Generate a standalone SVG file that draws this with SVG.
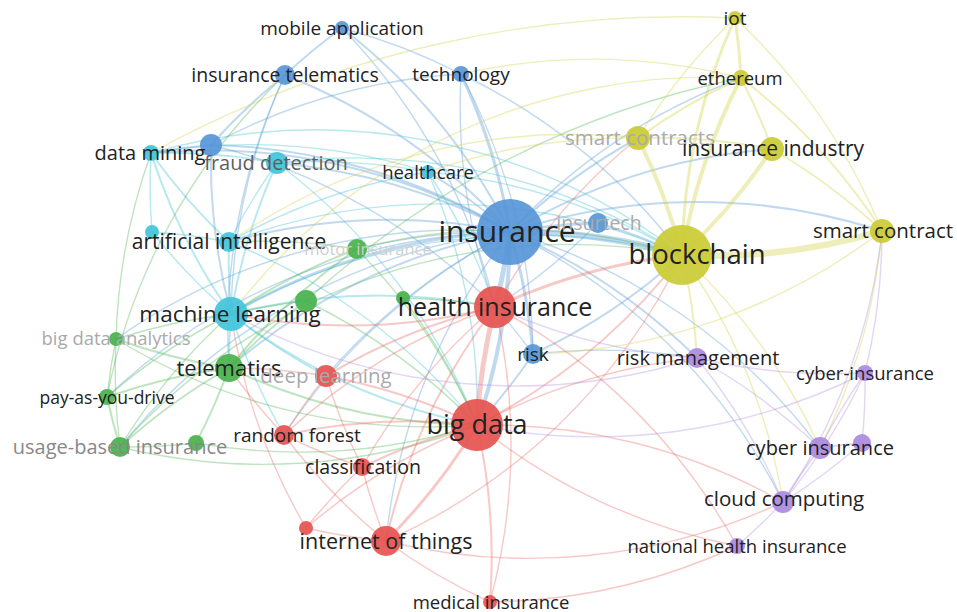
<svg xmlns="http://www.w3.org/2000/svg" width="957" height="612" viewBox="0 0 957 612">
<style>
  .e{fill:none;stroke-linecap:round;stroke-opacity:.38}
  .eb{stroke:#5b9bd5}.ec{stroke:#45c3d6}.eg{stroke:#55b85a}.er{stroke:#e8706a}.ey{stroke:#d2d24a}.ep{stroke:#b394e0}
  .w1{stroke-width:1.4}.w2{stroke-width:2}.w3{stroke-width:3}.w4{stroke-width:4}.w5{stroke-width:5}.w6{stroke-width:6.5}
  .nb{fill:#5796d8}.nc{fill:#42c4da}.ng{fill:#48b24c}.nr{fill:#e6524f}.ny{fill:#cbcb34}.np{fill:#ab8ae0}
  circle{fill-opacity:.92}
  text{font-family:"Open Sans","Noto Sans","DejaVu Sans",sans-serif;fill:#222;text-anchor:middle}
  .f1{fill:#aaa}.f2{fill:#888}.f3{fill:#5e5e5e}.f4{fill:#cfcfcf}
</style>
<rect width="957" height="612" fill="#fff"/>
<g id="connectors">
  <!-- blue cluster links -->
  <path class="e eb w6" d="M510 232A600 600 0 0 1 682 255"/>
  <path class="e eb w5" d="M510 232A600 600 0 0 1 495 307"/>
  <path class="e eb w4" d="M510 232A600 600 0 0 1 477 425"/>
  <path class="e eb w3" d="M461 74A600 600 0 0 1 510 232"/>
  <path class="e eb w2" d="M342 28A600 600 0 0 1 510 232"/>
  <path class="e eb w2" d="M285 75A600 600 0 0 1 510 232"/>
  <path class="e eb w2" d="M151 153A600 600 0 0 1 510 232"/>
  <path class="e eb w2" d="M211 145A600 600 0 0 1 510 232"/>
  <path class="e eb w2" d="M277 163A600 600 0 0 1 510 232"/>
  <path class="e eb w3" d="M231 314A600 600 0 0 1 510 232"/>
  <path class="e eb w2" d="M229 242A600 600 0 0 1 510 232"/>
  <path class="e eb w2" d="M229 368A600 600 0 0 1 510 232"/>
  <path class="e eb w3" d="M510 232A600 600 0 0 1 533 354"/>
  <path class="e eb w3" d="M510 232A600 600 0 0 1 598 223"/>
  <path class="e eb w2" d="M510 232A600 600 0 0 1 638 138"/>
  <path class="e eb w2" d="M510 232A600 600 0 0 1 772 149"/>
  <path class="e eb w2" d="M510 232A600 600 0 0 1 882 231"/>
  <path class="e eb w1" d="M510 232A600 600 0 0 1 741 78"/>
  <path class="e eb w2" d="M510 232A600 600 0 0 1 697 358"/>
  <path class="e eb w1" d="M386 541A600 600 0 0 1 510 232"/>
  <path class="e eb w1" d="M510 232A600 600 0 0 1 820 448"/>
  <path class="e eb w2" d="M428 172A600 600 0 0 1 510 232"/>
  <path class="e eb w1" d="M120 447A600 600 0 0 1 510 232"/>
  <path class="e eb w1" d="M107 397A600 600 0 0 1 510 232"/>
  <path class="e eb w1" d="M116 339A600 600 0 0 1 510 232"/>
  <path class="e eb w1" d="M284 435A600 600 0 0 1 510 232"/>
  <path class="e eb w1" d="M326 376A600 600 0 0 1 510 232"/>
  <path class="e eb w1" d="M357 249A600 600 0 0 1 510 232"/>
  <path class="e eb w1" d="M510 232A600 600 0 0 1 783 502"/>
  <path class="e eb w2" d="M285 75A600 600 0 0 1 342 28"/>
  <path class="e eb w1" d="M342 28A600 600 0 0 1 461 74"/>
  <path class="e eb w1" d="M342 28A600 600 0 0 1 495 307"/>
  <path class="e eb w2" d="M211 145A600 600 0 0 1 285 75"/>
  <path class="e eb w1" d="M285 75A600 600 0 0 0 229 368"/>
  <path class="e eb w1" d="M285 75A600 600 0 0 0 231 314"/>
  <path class="e eb w1" d="M461 74A600 600 0 0 1 533 354"/>
  <path class="e eb w1" d="M461 74A600 600 0 0 0 495 307"/>
  <path class="e eb w1" d="M461 74A600 600 0 0 1 682 255"/>
  <path class="e eb w1" d="M211 145A600 600 0 0 1 461 74"/>
  <path class="e eb w2" d="M151 153A600 600 0 0 1 211 145"/>
  <path class="e eb w2" d="M211 145A600 600 0 0 0 231 314"/>
  <path class="e eb w1" d="M211 145A600 600 0 0 1 495 307"/>
  <path class="e eb w2" d="M598 223A600 600 0 0 1 682 255"/>
  <path class="e eb w1" d="M598 223A600 600 0 0 1 495 307"/>
  <path class="e eb w2" d="M533 354A600 600 0 0 0 682 255"/>
  <path class="e eb w2" d="M533 354A600 600 0 0 1 477 425"/>
  <path class="e eb w1" d="M495 307A600 600 0 0 1 533 354"/>
  <path class="e eb w1" d="M533 354A600 600 0 0 1 697 358"/>
  <!-- cyan cluster links -->
  <path class="e ec w2" d="M151 153A600 600 0 0 1 277 163"/>
  <path class="e ec w2" d="M151 153A600 600 0 0 0 231 314"/>
  <path class="e ec w2" d="M151 153A600 600 0 0 0 229 242"/>
  <path class="e ec w1" d="M151 153A600 600 0 0 1 428 172"/>
  <path class="e ec w1" d="M151 153A600 600 0 0 0 152 232"/>
  <path class="e ec w1" d="M151 153A600 600 0 0 1 682 255"/>
  <path class="e ec w2" d="M277 163A600 600 0 0 0 231 314"/>
  <path class="e ec w1" d="M277 163A600 600 0 0 1 428 172"/>
  <path class="e ec w1" d="M277 163A600 600 0 0 1 477 425"/>
  <path class="e ec w1" d="M277 163A600 600 0 0 0 229 242"/>
  <path class="e ec w1" d="M277 163A600 600 0 0 1 682 255"/>
  <path class="e ec w2" d="M229 242A600 600 0 0 0 231 314"/>
  <path class="e ec w1" d="M229 242A600 600 0 0 1 428 172"/>
  <path class="e ec w1" d="M229 242A600 600 0 0 1 682 255"/>
  <path class="e ec w1" d="M229 242A600 600 0 0 1 477 425"/>
  <path class="e ec w2" d="M231 314A600 600 0 0 1 495 307"/>
  <path class="e ec w2" d="M231 314A600 600 0 0 0 477 425"/>
  <path class="e ec w2" d="M231 314A600 600 0 0 0 229 368"/>
  <path class="e ec w1" d="M231 314A600 600 0 0 0 326 376"/>
  <path class="e ec w1" d="M231 314A600 600 0 0 0 284 435"/>
  <path class="e ec w1" d="M231 314A600 600 0 0 1 682 255"/>
  <path class="e ec w1" d="M152 232A600 600 0 0 0 231 314"/>
  <path class="e ec w1" d="M152 232A600 600 0 0 1 229 242"/>
  <path class="e ec w1" d="M428 172A600 600 0 0 1 682 255"/>
  <path class="e ec w1" d="M428 172A600 600 0 0 1 477 425"/>
  <path class="e ec w1" d="M428 172A600 600 0 0 1 495 307"/>
  <!-- green cluster links -->
  <path class="e eg w2" d="M107 397A600 600 0 0 1 229 368"/>
  <path class="e eg w2" d="M120 447A600 600 0 0 1 229 368"/>
  <path class="e eg w2" d="M116 339A600 600 0 0 0 229 368"/>
  <path class="e eg w2" d="M229 368A600 600 0 0 1 196 443"/>
  <path class="e eg w2" d="M107 397A600 600 0 0 0 120 447"/>
  <path class="e eg w1" d="M116 339A600 600 0 0 0 120 447"/>
  <path class="e eg w1" d="M116 339A600 600 0 0 0 107 397"/>
  <path class="e eg w1" d="M120 447A600 600 0 0 0 196 443"/>
  <path class="e eg w2" d="M357 249A600 600 0 0 0 229 368"/>
  <path class="e eg w2" d="M357 249A600 600 0 0 0 231 314"/>
  <path class="e eg w2" d="M306 301A600 600 0 0 0 229 368"/>
  <path class="e eg w1" d="M306 301A600 600 0 0 0 231 314"/>
  <path class="e eg w1" d="M306 301A600 600 0 0 1 477 425"/>
  <path class="e eg w1" d="M357 249A600 600 0 0 1 477 425"/>
  <path class="e eg w1" d="M403 298A600 600 0 0 1 477 425"/>
  <path class="e eg w1" d="M403 298A600 600 0 0 1 495 307"/>
  <path class="e eg w1" d="M116 339A600 600 0 0 1 231 314"/>
  <path class="e eg w1" d="M357 249A600 600 0 0 1 682 255"/>
  <path class="e eg w1" d="M116 339A600 600 0 0 0 477 425"/>
  <path class="e eg w2" d="M229 368A600 600 0 0 0 477 425"/>
  <path class="e eg w1" d="M120 447A600 600 0 0 0 477 425"/>
  <path class="e eg w1" d="M107 397A600 600 0 0 1 285 75"/>
  <path class="e eg w1" d="M116 339A600 600 0 0 1 151 153"/>
  <path class="e eg w1" d="M196 443A600 600 0 0 0 477 425"/>
  <path class="e eg w1" d="M107 397A600 600 0 0 1 231 314"/>
  <path class="e eg w1" d="M120 447A600 600 0 0 1 231 314"/>
  <path class="e eg w1" d="M229 242A600 600 0 0 1 357 249"/>
  <path class="e eg w1" d="M120 447A600 600 0 0 1 682 255"/>
  <path class="e eg w1" d="M306 301A900 900 0 0 1 741 78"/>
  <!-- red cluster links -->
  <path class="e er w5" d="M495 307A600 600 0 0 0 477 425"/>
  <path class="e er w3" d="M477 425A600 600 0 0 1 386 541"/>
  <path class="e er w2" d="M284 435A600 600 0 0 1 477 425"/>
  <path class="e er w2" d="M362 467A600 600 0 0 1 477 425"/>
  <path class="e er w2" d="M326 376A600 600 0 0 1 477 425"/>
  <path class="e er w2" d="M477 425A600 600 0 0 1 490 602"/>
  <path class="e er w1" d="M306 528A600 600 0 0 1 477 425"/>
  <path class="e er w2" d="M477 425A600 600 0 0 0 682 255"/>
  <path class="e er w1" d="M477 425A600 600 0 0 0 737 546"/>
  <path class="e er w1" d="M477 425A600 600 0 0 1 783 502"/>
  <path class="e er w1" d="M477 425A600 600 0 0 1 697 358"/>
  <path class="e er w2" d="M326 376A600 600 0 0 1 495 307"/>
  <path class="e er w1" d="M284 435A600 600 0 0 1 495 307"/>
  <path class="e er w2" d="M386 541A600 600 0 0 1 495 307"/>
  <path class="e er w3" d="M495 307A600 600 0 0 1 682 255"/>
  <path class="e er w1" d="M495 307A600 600 0 0 1 490 602"/>
  <path class="e er w1" d="M495 307A600 600 0 0 1 737 546"/>
  <path class="e er w1" d="M326 376A600 600 0 0 0 284 435"/>
  <path class="e er w1" d="M326 376A600 600 0 0 0 362 467"/>
  <path class="e er w1" d="M284 435A600 600 0 0 0 362 467"/>
  <path class="e er w1" d="M362 467A600 600 0 0 0 386 541"/>
  <path class="e er w1" d="M306 528A600 600 0 0 0 386 541"/>
  <path class="e er w1" d="M386 541A600 600 0 0 0 490 602"/>
  <path class="e er w1" d="M386 541A600 600 0 0 0 682 255"/>
  <path class="e er w1" d="M386 541A600 600 0 0 0 783 502"/>
  <path class="e er w1" d="M284 435A600 600 0 0 0 386 541"/>
  <path class="e er w1" d="M306 528A600 600 0 0 1 362 467"/>
  <path class="e er w1" d="M229 368A600 600 0 0 1 326 376"/>
  <path class="e er w2" d="M231 314A600 600 0 0 0 495 307"/>
  <path class="e er w1" d="M229 368A600 600 0 0 0 284 435"/>
  <path class="e er w1" d="M362 467A600 600 0 0 1 495 307"/>
  <path class="e er w1" d="M495 307A600 600 0 0 1 638 138"/>
  <path class="e er w1" d="M306 528A600 600 0 0 1 231 314"/>
  <path class="e er w1" d="M490 602A600 600 0 0 0 737 546"/>
  <!-- yellow cluster links -->
  <path class="e ey w6" d="M682 255A600 600 0 0 0 882 231"/>
  <path class="e ey w4" d="M682 255A600 600 0 0 0 772 149"/>
  <path class="e ey w4" d="M682 255A600 600 0 0 1 741 78"/>
  <path class="e ey w3" d="M682 255A600 600 0 0 1 735 18"/>
  <path class="e ey w4" d="M682 255A600 600 0 0 0 638 138"/>
  <path class="e ey w2" d="M638 138A600 600 0 0 1 741 78"/>
  <path class="e ey w1" d="M638 138A600 600 0 0 1 735 18"/>
  <path class="e ey w3" d="M735 18A600 600 0 0 1 741 78"/>
  <path class="e ey w2" d="M741 78A600 600 0 0 1 772 149"/>
  <path class="e ey w2" d="M741 78A600 600 0 0 1 882 231"/>
  <path class="e ey w1" d="M735 18A600 600 0 0 1 882 231"/>
  <path class="e ey w2" d="M772 149A600 600 0 0 1 882 231"/>
  <path class="e ey w2" d="M638 138A600 600 0 0 1 772 149"/>
  <path class="e ey w2" d="M682 255A600 600 0 0 1 697 358"/>
  <path class="e ey w1" d="M682 255A600 600 0 0 1 820 448"/>
  <path class="e ey w1" d="M682 255A600 600 0 0 1 783 502"/>
  <path class="e ey w1" d="M151 153A1100 1100 0 0 1 735 18"/>
  <path class="e ey w1" d="M461 74A600 600 0 0 1 741 78"/>
  <path class="e ey w1" d="M231 314A600 600 0 0 1 741 78"/>
  <path class="e ey w1" d="M428 172A600 600 0 0 1 638 138"/>
  <path class="e ey w1" d="M882 231A600 600 0 0 1 820 448"/>
  <path class="e ey w1" d="M533 354A600 600 0 0 0 882 231"/>
  <path class="e ey w1" d="M229 242A600 600 0 0 1 638 138"/>
  <!-- purple cluster links -->
  <path class="e ep w1" d="M697 358A600 600 0 0 0 865 373"/>
  <path class="e ep w1" d="M697 358A600 600 0 0 1 820 448"/>
  <path class="e ep w1" d="M697 358A600 600 0 0 1 783 502"/>
  <path class="e ep w2" d="M820 448A600 600 0 0 0 783 502"/>
  <path class="e ep w2" d="M820 448A600 600 0 0 1 862 443"/>
  <path class="e ep w1" d="M865 373A600 600 0 0 1 862 443"/>
  <path class="e ep w1" d="M865 373A600 600 0 0 1 783 502"/>
  <path class="e ep w1" d="M783 502A600 600 0 0 1 737 546"/>
  <path class="e ep w1" d="M865 373A600 600 0 0 0 820 448"/>
  <path class="e ep w1" d="M882 231A600 600 0 0 1 783 502"/>
  <path class="e ep w1" d="M882 231A600 600 0 0 1 865 373"/>
  <path class="e ep w1" d="M862 443A600 600 0 0 1 783 502"/>
  <path class="e ep w1" d="M495 307A600 600 0 0 0 697 358"/>
  <path class="e ep w1" d="M231 314A600 600 0 0 0 697 358"/>
  <path class="e ep w1" d="M477 425A600 600 0 0 0 865 373"/>
</g>
<!-- nodes -->
<g id="n-mobile-application"><circle class="nb" cx="342" cy="28" r="7"/><text x="342" y="34.5" font-size="19">mobile application</text></g>
<g id="n-insurance-telematics"><circle class="nb" cx="285" cy="75" r="10"/><text x="285" y="81.5" font-size="19.5">insurance telematics</text></g>
<g id="n-technology"><circle class="nb" cx="461" cy="74" r="8"/><text x="461" y="80.5" font-size="19">technology</text></g>
<g id="n-blue-a"><circle class="nb" cx="211" cy="145" r="11"/></g>
<g id="n-data-mining"><circle class="nc" cx="151" cy="153" r="8"/><text x="150" y="159.5" font-size="20">data mining</text></g>
<g id="n-fraud-detection"><circle class="nc" cx="277" cy="163" r="11"/><text class="f3" x="276" y="169.5" font-size="20">fraud detection</text></g>
<g id="n-healthcare"><circle class="nc" cx="428" cy="172" r="7"/><text x="428" y="178.5" font-size="18.5">healthcare</text></g>
<g id="n-cyan-a"><circle class="nc" cx="152" cy="232" r="7"/></g>
<g id="n-artificial-intelligence"><circle class="nc" cx="229" cy="242" r="10"/><text x="229" y="249" font-size="21">artificial intelligence</text></g>
<g id="n-machine-learning"><circle class="nc" cx="231" cy="314" r="17"/><text x="230" y="321.5" font-size="22.5">machine learning</text></g>
<g id="n-motor-insurance"><circle class="ng" cx="357" cy="249" r="10"/><text class="f4" x="368" y="255" font-size="16.5">motor insurance</text></g>
<g id="n-green-a"><circle class="ng" cx="306" cy="301" r="11"/></g>
<g id="n-green-b"><circle class="ng" cx="403" cy="298" r="7"/></g>
<g id="n-big-data-analytics"><circle class="ng" cx="116" cy="339" r="7"/><text class="f1" x="116" y="345" font-size="18.5">big data analytics</text></g>
<g id="n-telematics"><circle class="ng" cx="229" cy="368" r="14"/><text x="229" y="375.5" font-size="22">telematics</text></g>
<g id="n-pay-as-you-drive"><circle class="ng" cx="107" cy="397" r="8"/><text x="107" y="403.5" font-size="17.5">pay-as-you-drive</text></g>
<g id="n-usage-based-insurance"><circle class="ng" cx="120" cy="447" r="10"/><circle class="ng" cx="196" cy="443" r="8"/><text class="f2" x="120" y="453.5" font-size="20">usage-based insurance</text></g>
<g id="n-insurance"><circle class="nb" cx="510" cy="232" r="33"/><text x="507" y="242" font-size="30">insurance</text></g>
<g id="n-insurtech"><circle class="nb" cx="598" cy="223" r="10"/><text class="f1" x="599" y="229.5" font-size="19.5">insurtech</text></g>
<g id="n-risk"><circle class="nb" cx="533" cy="354" r="10"/><text x="533" y="360.5" font-size="19">risk</text></g>
<g id="n-health-insurance"><circle class="nr" cx="495" cy="307" r="21"/><text x="495" y="315.5" font-size="25">health insurance</text></g>
<g id="n-big-data"><circle class="nr" cx="477" cy="425" r="26"/><text x="477" y="433.5" font-size="27">big data</text></g>
<g id="n-deep-learning"><circle class="nr" cx="326" cy="376" r="11"/><text class="f1" x="326" y="382.5" font-size="20.5">deep learning</text></g>
<g id="n-random-forest"><circle class="nr" cx="284" cy="435" r="10"/><text x="297" y="441.5" font-size="19">random forest</text></g>
<g id="n-classification"><circle class="nr" cx="362" cy="467" r="9"/><text x="363" y="473.5" font-size="19.5">classification</text></g>
<g id="n-red-a"><circle class="nr" cx="306" cy="528" r="7"/></g>
<g id="n-internet-of-things"><circle class="nr" cx="386" cy="541" r="15"/><text x="386" y="548.5" font-size="21.5">internet of things</text></g>
<g id="n-medical-insurance"><circle class="nr" cx="490" cy="602" r="7"/><text x="491" y="608.5" font-size="18.5">medical insurance</text></g>
<g id="n-iot"><circle class="ny" cx="735" cy="18" r="7"/><text x="735" y="24.5" font-size="19">iot</text></g>
<g id="n-ethereum"><circle class="ny" cx="741" cy="78" r="8"/><text x="740" y="84.5" font-size="18.5">ethereum</text></g>
<g id="n-smart-contracts"><circle class="ny" cx="638" cy="138" r="12"/><text class="f1" x="640" y="144.5" font-size="20.5">smart contracts</text></g>
<g id="n-insurance-industry"><circle class="ny" cx="772" cy="149" r="12"/><text x="773" y="156" font-size="21">insurance industry</text></g>
<g id="n-smart-contract"><circle class="ny" cx="882" cy="231" r="12"/><text x="883" y="237.5" font-size="20.5">smart contract</text></g>
<g id="n-blockchain"><circle class="ny" cx="682" cy="255" r="30"/><text x="697" y="263.5" font-size="27.5">blockchain</text></g>
<g id="n-risk-management"><circle class="np" cx="697" cy="358" r="10"/><text x="698" y="364.5" font-size="20">risk management</text></g>
<g id="n-cyber-insurance-h"><circle class="np" cx="865" cy="373" r="8"/><text x="865" y="380" font-size="18.5">cyber-insurance</text></g>
<g id="n-cyber-insurance"><circle class="np" cx="820" cy="448" r="11"/><circle class="np" cx="862" cy="443" r="9"/><text x="820" y="454.5" font-size="20">cyber insurance</text></g>
<g id="n-cloud-computing"><circle class="np" cx="783" cy="502" r="11"/><text x="784" y="506" font-size="20.5">cloud computing</text></g>
<g id="n-national-health-insurance"><circle class="np" cx="737" cy="546" r="8"/><text x="737" y="552.5" font-size="18.5">national health insurance</text></g>
</svg>
